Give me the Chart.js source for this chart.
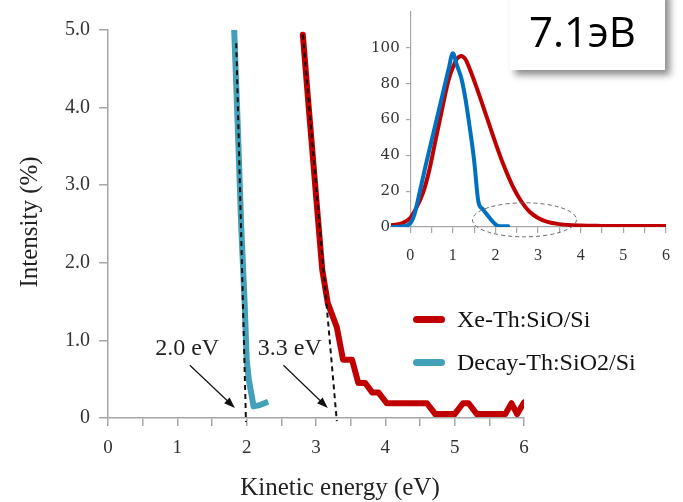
<!DOCTYPE html>
<html>
<head>
<meta charset="utf-8">
<script src="https://cdn.jsdelivr.net/npm/chart.js@4.4.1/dist/chart.umd.min.js"></script>
<style>
  body { margin: 0; background: #fff; }
  #wrap { position: relative; width: 683px; height: 502px; overflow: hidden; }
  #mainChart { position: absolute; left: 0; top: 0; }
  #insetChart { position: absolute; left: 340px; top: 0; }
  .leg { position: absolute; left: 413px; height: 30px; font-family: 'Liberation Serif', serif; font-size: 24px; color: #111; white-space: nowrap; }
  .leg span.sw { position: absolute; left: 0; top: 12px; width: 32px; height: 7px; border-radius: 4px; }
  .leg span.tx { position: absolute; left: 44px; top: 0; line-height: 30px; }
  #energyBox { position: absolute; left: 510px; top: -10px; width: 155px; height: 80px; background: #fff;
    box-shadow: 5px 5px 7px rgba(0,0,0,0.45); font-family: 'Open Sans', 'Noto Sans', sans-serif; font-size: 42px; color: #000; }
  #energyBox span { position: absolute; left: 19px; top: 12px; line-height: 58px; }
</style>
</head>
<body>
<div id="wrap">
  <canvas id="mainChart" width="683" height="502"></canvas>
  <canvas id="insetChart" width="343" height="270"></canvas>
  <div class="leg" style="top:304px"><span class="sw" style="background:#c00000"></span><span class="tx">Xe-Th:SiO/Si</span></div>
  <div class="leg" style="top:347px"><span class="sw" style="background:#43a0b9"></span><span class="tx">Decay-Th:SiO2/Si</span></div>
  <div id="energyBox"><span>7.1эВ</span></div>
</div>
<script>
// main plot: intensity (%) vs kinetic energy (eV)
const xeX = [2.81, 2.9, 3.03, 3.09, 3.17, 3.3, 3.39, 3.52, 3.61, 3.71, 3.81, 3.9, 4.02, 4.6, 4.72, 5.0, 5.12, 5.2, 5.32, 5.73, 5.82, 5.9, 6.0];
const xeY = [4.94, 3.95, 2.55, 1.91, 1.48, 1.17, 0.75, 0.75, 0.45, 0.45, 0.33, 0.33, 0.19, 0.19, 0.05, 0.05, 0.19, 0.19, 0.05, 0.05, 0.19, 0.05, 0.2];
const decayX = [1.82, 1.87, 1.92, 1.97, 2.0, 2.03, 2.1, 2.2, 2.31];
const decayY = [5.0, 3.8, 2.5, 1.5, 0.75, 0.5, 0.15, 0.17, 0.21];

// extrapolated cut-off lines
const cut1X = [1.85, 1.99];
const cut1Y = [4.83, -0.05];
const cut2X = [2.81, 3.30];
const cut2Y = [4.94, -0.04];
const cutLabels = ['2.0 eV', '3.3 eV'];
const cutLabelAt = [[0.68, 0.89], [2.16, 0.89]];
const arrowFrom = [[1.18, 0.68], [2.53, 0.68]];
const arrowTo = [[1.83, 0.13], [3.17, 0.13]];

// inset: normalised spectra
const insetXeX = [-0.43, -0.2, 0, 0.15, 0.3, 0.45, 0.6, 0.75, 0.9, 1.0, 1.1, 1.2, 1.3, 1.4, 1.6, 1.8, 2.0, 2.2, 2.4, 2.6, 2.8, 3.0, 3.2, 3.5, 4.0, 4.5, 5.0, 6.0];
const insetXeY = [1, 2, 5, 11, 19, 32, 49, 66, 82, 89, 94, 95.5, 93.5, 88, 75, 61, 47, 34, 23, 14.5, 8.5, 5, 3, 1.6, 0.8, 0.6, 0.5, 0.5];
const insetDecayX = [-0.43, -0.2, 0, 0.1, 0.2, 0.35, 0.5, 0.65, 0.8, 0.9, 1.0, 1.1, 1.2, 1.3, 1.4, 1.5, 1.6, 1.7, 1.8, 1.9, 2.0, 2.1, 2.3];
const insetDecayY = [0, 0.3, 2, 7, 17, 33, 48, 63, 78, 88, 97, 90, 83, 71, 55, 37, 14, 10, 7, 4, 1.5, 0.4, 0.4];
const insetTicksY = [0, 20, 40, 60, 80, 100];
const ellipse = { x: 2.68, y: 4, rx: 1.22, ry: 9.5 };

function pts(xs, ys) {
  return xs.map((x, i) => ({ x: x, y: ys[i] }));
}

Chart.defaults.font.family = "'Liberation Serif', serif";
Chart.defaults.color = '#333';

const axisGrey = '#a6a6a6';

const mainExtras = {
  id: 'mainExtras',
  afterDatasetsDraw(chart) {
    const ctx = chart.ctx;
    const xs = chart.scales.x, ys = chart.scales.y;
    ctx.save();
    // arrows
    ctx.strokeStyle = '#111';
    ctx.fillStyle = '#111';
    ctx.lineWidth = 1.2;
    for (let i = 0; i < arrowFrom.length; i++) {
      const x1 = xs.getPixelForValue(arrowFrom[i][0]), y1 = ys.getPixelForValue(arrowFrom[i][1]);
      const x2 = xs.getPixelForValue(arrowTo[i][0]), y2 = ys.getPixelForValue(arrowTo[i][1]);
      const a = Math.atan2(y2 - y1, x2 - x1);
      ctx.beginPath();
      ctx.moveTo(x1, y1);
      ctx.lineTo(x2 - 6 * Math.cos(a), y2 - 6 * Math.sin(a));
      ctx.stroke();
      ctx.beginPath();
      ctx.moveTo(x2, y2);
      ctx.lineTo(x2 - 11 * Math.cos(a) + 4 * Math.sin(a), y2 - 11 * Math.sin(a) - 4 * Math.cos(a));
      ctx.lineTo(x2 - 11 * Math.cos(a) - 4 * Math.sin(a), y2 - 11 * Math.sin(a) + 4 * Math.cos(a));
      ctx.closePath();
      ctx.fill();
    }
    // cut-off labels
    ctx.font = "24px 'Liberation Serif', serif";
    ctx.fillStyle = '#222';
    ctx.textAlign = 'left';
    ctx.textBaseline = 'middle';
    cutLabels.forEach((t, i) => {
      ctx.fillText(t, xs.getPixelForValue(cutLabelAt[i][0]), ys.getPixelForValue(cutLabelAt[i][1]));
    });
    // axis titles
    ctx.font = "25px 'Liberation Serif', serif";
    ctx.textAlign = 'center';
    ctx.textBaseline = 'alphabetic';
    ctx.fillText('Kinetic energy (eV)', 340, 495);
    ctx.translate(30, 222);
    ctx.rotate(-Math.PI / 2);
    ctx.textBaseline = 'middle';
    ctx.fillText('Intensity (%)', 0, 0);
    ctx.restore();
  }
};

new Chart(document.getElementById('mainChart'), {
  type: 'line',
  data: {
    datasets: [
      { data: pts(cut1X, cut1Y), borderColor: '#111', borderWidth: 2, borderDash: [5, 4], pointRadius: 0, clip: false, order: 0 },
      { data: pts(cut2X, cut2Y), borderColor: '#111', borderWidth: 2, borderDash: [5, 4], pointRadius: 0, clip: false, order: 0 },
      { label: 'Xe-Th:SiO/Si', data: pts(xeX, xeY), borderColor: '#c00000', borderWidth: 6, pointRadius: 0,
        borderJoinStyle: 'round', borderCapStyle: 'round', tension: 0, order: 1 },
      { label: 'Decay-Th:SiO2/Si', data: pts(decayX, decayY), borderColor: '#43a0b9', borderWidth: 6, pointRadius: 0,
        borderJoinStyle: 'round', borderCapStyle: 'butt', tension: 0, order: 1 }
    ]
  },
  options: {
    responsive: false,
    animation: false,
    devicePixelRatio: 1,
    layout: { padding: { top: 30, right: 159, left: 0, bottom: 0 } },
    plugins: { legend: { display: false }, tooltip: { enabled: false } },
    scales: {
      x: {
        type: 'linear', min: 0, max: 6,
        afterFit: s => { s.height = 84; },
        ticks: { stepSize: 0.5, autoSkip: false, maxRotation: 0, padding: 11, color: '#333', font: { size: 19 },
          callback: v => Number.isInteger(v) ? String(v) : '' },
        grid: { drawOnChartArea: false, drawTicks: true, tickLength: 8, color: axisGrey, lineWidth: 1.5 },
        border: { color: axisGrey, width: 1.5 }
      },
      y: {
        type: 'linear', min: 0, max: 5,
        afterFit: s => { s.width = 108; },
        ticks: { stepSize: 1, padding: 9, color: '#333', font: { size: 20 },
          callback: v => v === 0 ? '0' : v.toFixed(1) },
        grid: { drawOnChartArea: false, drawTicks: true, tickLength: 9, color: axisGrey, lineWidth: 1.5 },
        border: { color: axisGrey, width: 1.5 }
      }
    }
  },
  plugins: [mainExtras]
});

const insetExtras = {
  id: 'insetExtras',
  afterDatasetsDraw(chart) {
    const ctx = chart.ctx;
    const xs = chart.scales.x, ys = chart.scales.y;
    const cx = xs.getPixelForValue(ellipse.x), cy = ys.getPixelForValue(ellipse.y);
    const rx = Math.abs(xs.getPixelForValue(ellipse.x + ellipse.rx) - cx);
    const ry = Math.abs(ys.getPixelForValue(ellipse.y + ellipse.ry) - cy);
    ctx.save();
    ctx.strokeStyle = '#666';
    ctx.lineWidth = 1;
    ctx.setLineDash([4, 3]);
    ctx.beginPath();
    ctx.ellipse(cx, cy, rx, ry, 0, 0, Math.PI * 2);
    ctx.stroke();
    ctx.restore();
  }
};

new Chart(document.getElementById('insetChart'), {
  type: 'line',
  data: {
    datasets: [
      { data: pts(insetDecayX, insetDecayY), borderColor: '#0070c0', borderWidth: 4, pointRadius: 0,
        cubicInterpolationMode: 'monotone', borderJoinStyle: 'round', borderCapStyle: 'round' },
      { data: pts(insetXeX, insetXeY), borderColor: '#c00000', borderWidth: 4, pointRadius: 0,
        cubicInterpolationMode: 'monotone', borderJoinStyle: 'round', borderCapStyle: 'round' }
    ]
  },
  options: {
    responsive: false,
    animation: false,
    devicePixelRatio: 1,
    layout: { padding: { top: 10, right: 6, left: 51, bottom: 0 } },
    plugins: { legend: { display: false }, tooltip: { enabled: false } },
    scales: {
      x: {
        type: 'linear', min: -0.45, max: 6,
        afterFit: s => { s.height = 43; },
        ticks: { stepSize: 0.5, includeBounds: false, autoSkip: false, maxRotation: 0, padding: 13, color: '#333', font: { size: 16 },
          callback: v => Number.isInteger(v) ? String(v) : '' },
        grid: { drawOnChartArea: false, drawTicks: true, tickLength: 6, color: axisGrey, lineWidth: 1.2 },
        border: { color: axisGrey, width: 1.2 }
      },
      y: {
        type: 'linear', min: 0, max: 120, position: { x: 0 },
        afterBuildTicks: s => { s.ticks = insetTicksY.map(v => ({ value: v })); },
        ticks: { color: '#333', font: { family: "'DejaVu Serif', serif", size: 15 },
          callback: v => (v === 0 ? '0\u2007' : String(v)) + '\u2002\u2009' },
        grid: { drawOnChartArea: false, drawTicks: true, tickLength: 4, color: axisGrey, lineWidth: 1.2 },
        border: { color: axisGrey, width: 1.2 }
      }
    }
  },
  plugins: [insetExtras]
});
</script>
</body>
</html>
